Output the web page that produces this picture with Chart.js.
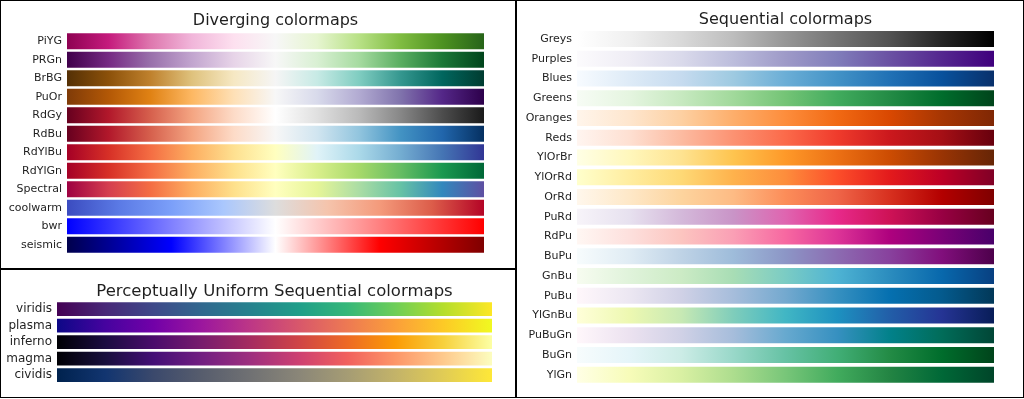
<!DOCTYPE html>
<html>
<head>
<meta charset="utf-8">
<title>Colormaps</title>
<script src="https://cdn.jsdelivr.net/npm/chart.js@4/dist/chart.umd.min.js"></script>
<style>
  html, body { margin: 0; padding: 0; background: #fff; }
  body { position: relative; width: 1024px; height: 399px; overflow: hidden; }
  .panel { position: absolute; box-sizing: border-box; border: 1px solid #000; }
  canvas { position: absolute; }
</style>
</head>
<body>
<div class="panel" style="left:0;top:0;width:516px;height:269px;"></div>
<div class="panel" style="left:0;top:269px;width:516px;height:129px;"></div>
<div class="panel" style="left:516px;top:0;width:508px;height:398px;"></div>

<canvas id="diverging-chart" width="516" height="269" style="left:0;top:0;"></canvas>
<canvas id="uniform-chart" width="516" height="130" style="left:0;top:269px;"></canvas>
<canvas id="sequential-chart" width="508" height="399" style="left:516px;top:0;"></canvas>

<script>
'use strict';

// Diverging colormaps.
const divergingNames = ['PiYG', 'PRGn', 'BrBG', 'PuOr', 'RdGy', 'RdBu', 'RdYlBu', 'RdYlGn', 'Spectral', 'coolwarm', 'bwr', 'seismic'];
const divergingValues = [1, 1, 1, 1, 1, 1, 1, 1, 1, 1, 1, 1];
const divergingStops = [
  ['#8e0152', '#c51b7d', '#de77ae', '#f1b6da', '#fde0ef', '#f7f7f7', '#e6f5d0', '#b8e186', '#7fbc41', '#4d9221', '#276419'],
  ['#40004b', '#762a83', '#9970ab', '#c2a5cf', '#e7d4e8', '#f7f7f7', '#d9f0d3', '#a6dba0', '#5aae61', '#1b7837', '#00441b'],
  ['#543005', '#8c510a', '#bf812d', '#dfc27d', '#f6e8c3', '#f5f5f5', '#c7eae5', '#80cdc1', '#35978f', '#01665e', '#003c30'],
  ['#7f3b08', '#b35806', '#e08214', '#fdb863', '#fee0b6', '#f7f7f7', '#d8daeb', '#b2abd2', '#8073ac', '#542788', '#2d004b'],
  ['#67001f', '#b2182b', '#d6604d', '#f4a582', '#fddbc7', '#ffffff', '#e0e0e0', '#bababa', '#878787', '#4d4d4d', '#1a1a1a'],
  ['#67001f', '#b2182b', '#d6604d', '#f4a582', '#fddbc7', '#f7f7f7', '#d1e5f0', '#92c5de', '#4393c3', '#2166ac', '#053061'],
  ['#a50026', '#d73027', '#f46d43', '#fdae61', '#fee090', '#ffffbf', '#e0f3f8', '#abd9e9', '#74add1', '#4575b4', '#313695'],
  ['#a50026', '#d73027', '#f46d43', '#fdae61', '#fee08b', '#ffffbf', '#d9ef8b', '#a6d96a', '#66bd63', '#1a9850', '#006837'],
  ['#9e0142', '#d53e4f', '#f46d43', '#fdae61', '#fee08b', '#ffffbf', '#e6f598', '#abdda4', '#66c2a5', '#3288bd', '#5e4fa2'],
  ['#3b4cc0', '#5b7ae5', '#7b9ff9', '#aac7fd', '#dddddd', '#f5c4ac', '#f49a7b', '#dc5d4a', '#b40426'],
  ['#0000ff', '#ffffff', '#ff0000'],
  ['#00004c', '#0000ff', '#ffffff', '#ff0000', '#7f0000'],
];

// Perceptually uniform sequential colormaps.
const uniformNames = ['viridis', 'plasma', 'inferno', 'magma', 'cividis'];
const uniformValues = [1, 1, 1, 1, 1];
const uniformStops = [
  ['#440154', '#482878', '#3e4989', '#31688e', '#26828e', '#1f9e89', '#35b779', '#6ece58', '#b5de2b', '#fde725'],
  ['#0d0887', '#46039f', '#7201a8', '#9c179e', '#bd3786', '#d8576b', '#ed7953', '#fb9f3a', '#fdca26', '#f0f921'],
  ['#000004', '#1b0c41', '#4a0c6b', '#781c6d', '#a52c60', '#cf4446', '#ed6925', '#fb9b06', '#f7d13d', '#fcffa4'],
  ['#000004', '#180f3d', '#440f76', '#721f81', '#9e2f7f', '#cd4071', '#f1605d', '#fd9668', '#feca8d', '#fcfdbf'],
  ['#00224e', '#123570', '#3b496c', '#575d6d', '#707173', '#8a8678', '#a59c74', '#c3b369', '#e1cc55', '#fee838'],
];

// Sequential colormaps.
const sequentialNames = ['Greys', 'Purples', 'Blues', 'Greens', 'Oranges', 'Reds', 'YlOrBr', 'YlOrRd', 'OrRd', 'PuRd', 'RdPu', 'BuPu', 'GnBu', 'PuBu', 'YlGnBu', 'PuBuGn', 'BuGn', 'YlGn'];
const sequentialValues = [1, 1, 1, 1, 1, 1, 1, 1, 1, 1, 1, 1, 1, 1, 1, 1, 1, 1];
const sequentialStops = [
  ['#ffffff', '#f0f0f0', '#d9d9d9', '#bdbdbd', '#969696', '#737373', '#525252', '#252525', '#000000'],
  ['#fcfbfd', '#efedf5', '#dadaeb', '#bcbddc', '#9e9ac8', '#807dba', '#6a51a3', '#54278f', '#3f007d'],
  ['#f7fbff', '#deebf7', '#c6dbef', '#9ecae1', '#6baed6', '#4292c6', '#2171b5', '#08519c', '#08306b'],
  ['#f7fcf5', '#e5f5e0', '#c7e9c0', '#a1d99b', '#74c476', '#41ab5d', '#238b45', '#006d2c', '#00441b'],
  ['#fff5eb', '#fee6ce', '#fdd0a2', '#fdae6b', '#fd8d3c', '#f16913', '#d94801', '#a63603', '#7f2704'],
  ['#fff5f0', '#fee0d2', '#fcbba1', '#fc9272', '#fb6a4a', '#ef3b2c', '#cb181d', '#a50f15', '#67000d'],
  ['#ffffe5', '#fff7bc', '#fee391', '#fec44f', '#fe9929', '#ec7014', '#cc4c02', '#993404', '#662506'],
  ['#ffffcc', '#ffeda0', '#fed976', '#feb24c', '#fd8d3c', '#fc4e2a', '#e31a1c', '#bd0026', '#800026'],
  ['#fff7ec', '#fee8c8', '#fdd49e', '#fdbb84', '#fc8d59', '#ef6548', '#d7301f', '#b30000', '#7f0000'],
  ['#f7f4f9', '#e7e1ef', '#d4b9da', '#c994c7', '#df65b0', '#e7298a', '#ce1256', '#980043', '#67001f'],
  ['#fff7f3', '#fde0dd', '#fcc5c0', '#fa9fb5', '#f768a1', '#dd3497', '#ae017e', '#7a0177', '#49006a'],
  ['#f7fcfd', '#e0ecf4', '#bfd3e6', '#9ebcda', '#8c96c6', '#8c6bb1', '#88419d', '#810f7c', '#4d004b'],
  ['#f7fcf0', '#e0f3db', '#ccebc5', '#a8ddb5', '#7bccc4', '#4eb3d3', '#2b8cbe', '#0868ac', '#084081'],
  ['#fff7fb', '#ece7f2', '#d0d1e6', '#a6bddb', '#74a9cf', '#3690c0', '#0570b0', '#045a8d', '#023858'],
  ['#ffffd9', '#edf8b1', '#c7e9b4', '#7fcdbb', '#41b6c4', '#1d91c0', '#225ea8', '#253494', '#081d58'],
  ['#fff7fb', '#ece2f0', '#d0d1e6', '#a6bddb', '#67a9cf', '#3690c0', '#02818a', '#016c59', '#014636'],
  ['#f7fcfd', '#e5f5f9', '#ccece6', '#99d8c9', '#66c2a4', '#41ae76', '#238b45', '#006d2c', '#00441b'],
  ['#ffffe5', '#f7fcb9', '#d9f0a3', '#addd8e', '#78c679', '#41ab5d', '#238443', '#006837', '#004529'],
];

const FONT = "'DejaVu Sans', 'Liberation Sans', sans-serif";
const TEXT_COLOR = '#1f1f1f';

/**
 * Builds a horizontal gradient for one bar, running over the x scale.
 */
function colormapFill(stopsList) {
  return function (ctx) {
    const chart = ctx.chart;
    const xScale = chart.scales.x;
    if (!chart.chartArea || !xScale) {
      return '#888';
    }
    const stops = stopsList[ctx.dataIndex];
    const x0 = xScale.getPixelForValue(0);
    const x1 = xScale.getPixelForValue(1);
    const gradient = chart.ctx.createLinearGradient(x0, 0, x1, 0);
    stops.forEach((color, i) => gradient.addColorStop(i / (stops.length - 1), color));
    return gradient;
  };
}

/**
 * Draws one panel of colormap bars.
 */
function drawColormapPanel(canvasId, cfg) {
  const canvas = document.getElementById(canvasId);
  if (!canvas) {
    return;
  }

  new Chart(canvas.getContext('2d'), {
    type: 'bar',
    data: {
      labels: cfg.names,
      datasets: [
        {
          data: cfg.values,
          backgroundColor: colormapFill(cfg.stops),
          borderWidth: 0,
          categoryPercentage: 1,
          barPercentage: cfg.barPercentage,
        },
      ],
    },
    options: {
      indexAxis: 'y',
      responsive: false,
      animation: false,
      layout: {
        padding: { left: 0, top: 0, right: cfg.padRight, bottom: cfg.padBottom },
      },
      plugins: {
        legend: { display: false },
        tooltip: { enabled: false },
        title: {
          display: true,
          text: cfg.title,
          fullSize: false,
          color: TEXT_COLOR,
          font: { family: FONT, size: cfg.titleSize, weight: 'normal', lineHeight: cfg.titleLineHeight },
          padding: { top: cfg.titleTop, bottom: cfg.titleBottom },
        },
      },
      scales: {
        x: {
          type: 'linear',
          min: 0,
          max: 1,
          display: false,
        },
        y: {
          type: 'category',
          offset: true,
          grid: { display: false, drawTicks: false },
          border: { display: false },
          ticks: {
            color: TEXT_COLOR,
            padding: 5,
            autoSkip: false,
            font: { family: FONT, size: cfg.labelSize },
          },
          afterFit: function (scale) {
            scale.width = cfg.axisWidth;
          },
        },
      },
    },
  });
}

drawColormapPanel('diverging-chart', {
  title: 'Diverging colormaps',
  names: divergingNames,
  values: divergingValues,
  stops: divergingStops,
  barPercentage: 0.865,
  axisWidth: 67,
  padRight: 32,
  padBottom: 15,
  titleSize: 16,
  titleLineHeight: 1.2,
  titleTop: 11.6,
  titleBottom: 1.3,
  labelSize: 11,
});

drawColormapPanel('uniform-chart', {
  title: 'Perceptually Uniform Sequential colormaps',
  names: uniformNames,
  values: uniformValues,
  stops: uniformStops,
  barPercentage: 0.83,
  axisWidth: 57,
  padRight: 24,
  padBottom: 15.6,
  titleSize: 16.5,
  titleLineHeight: 1,
  titleTop: 14.75,
  titleBottom: 0.65,
  labelSize: 12,
});

drawColormapPanel('sequential-chart', {
  title: 'Sequential colormaps',
  names: sequentialNames,
  values: sequentialValues,
  stops: sequentialStops,
  barPercentage: 0.81,
  axisWidth: 61,
  padRight: 30,
  padBottom: 14.4,
  titleSize: 16,
  titleLineHeight: 1.2,
  titleTop: 9.9,
  titleBottom: 0,
  labelSize: 11,
});
</script>
</body>
</html>
